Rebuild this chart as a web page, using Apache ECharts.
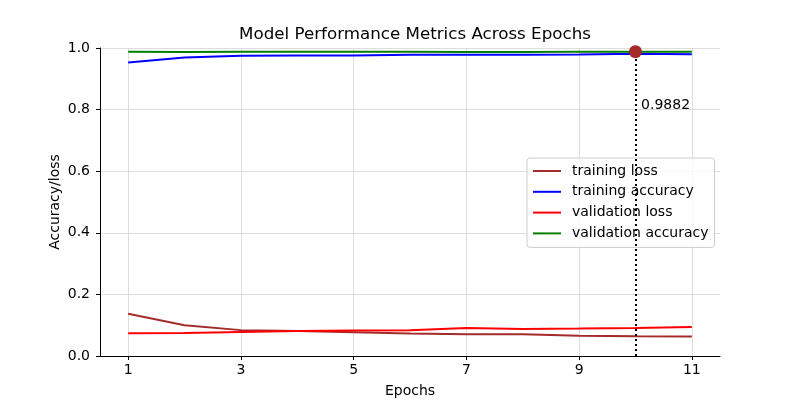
<!DOCTYPE html>
<html>
<head>
<meta charset="utf-8">
<script src="https://cdn.jsdelivr.net/npm/echarts@6/dist/echarts.min.js"></script>
<style>
  html, body { margin: 0; padding: 0; background: #fff; }
  #chart { width: 800px; height: 400px; }
</style>
</head>
<body>
<div id="chart"></div>
<script>
// values
const epochs = [1, 2, 3, 4, 5, 6, 7, 8, 9, 10, 11]
const trainLoss = [0.137, 0.100, 0.084, 0.081, 0.077, 0.073, 0.071, 0.071, 0.066, 0.064, 0.063]
const trainAcc = [0.953, 0.969, 0.975, 0.976, 0.976, 0.978, 0.978, 0.978, 0.979, 0.981, 0.980]
const valLoss = [0.074, 0.075, 0.078, 0.081, 0.083, 0.084, 0.091, 0.088, 0.089, 0.091, 0.094]
const valAcc = [0.988, 0.987, 0.988, 0.988, 0.988, 0.988, 0.987, 0.987, 0.988, 0.9882, 0.988]
const xTicks = [1, 3, 5, 7, 9, 11]
const bestEpoch = 10
const bestValue = 0.9882

const font = 'DejaVu Sans'
const pairs = (ys) => epochs.map((e, i) => [e, ys[i]])

const chart = echarts.init(document.getElementById('chart'))

function lineSeries(name, ys, color) {
  return {
    name: name,
    type: 'line',
    data: pairs(ys),
    symbol: 'none',
    lineStyle: { color: color, width: 2 },
    itemStyle: { color: color },
    animation: false
  }
}

chart.setOption({
  animation: false,
  title: {
    text: 'Model Performance Metrics Across Epochs',
    left: 410,
    textAlign: 'center',
    top: 21,
    textStyle: { fontFamily: font, fontSize: 16.7, fontWeight: 'normal', color: '#000' }
  },
  grid: { left: 100, right: 80, top: 48, bottom: 44, outerBoundsMode: 'none', containLabel: false },
  legend: {
    orient: 'vertical',
    left: 527,
    top: 158,
    padding: [6, 6, 7, 6],
    itemGap: 6.8,
    itemWidth: 28,
    itemHeight: 2,
    icon: 'rect',
    backgroundColor: 'rgba(255,255,255,0.8)',
    borderColor: '#cccccc',
    borderWidth: 1,
    borderRadius: 3,
    textStyle: { fontFamily: font, fontSize: 14, lineHeight: 14, color: '#000', padding: [0, 0, 0, 6] },
    data: ['training loss', 'training accuracy', 'validation loss', 'validation accuracy']
  },
  xAxis: {
    type: 'value',
    min: 0.5,
    max: 11.5,
    name: 'Epochs',
    nameLocation: 'middle',
    nameGap: 28,
    nameMoveOverlap: false,
    nameTextStyle: { fontFamily: font, fontSize: 14, color: '#000' },
    axisLine: { show: true, onZero: false, lineStyle: { color: '#000', width: 1 } },
    axisTick: { show: true, customValues: xTicks, length: 4, lineStyle: { color: '#000' } },
    axisLabel: { customValues: xTicks, fontFamily: font, fontSize: 14, color: '#000', margin: 7 },
    splitLine: { show: true, customValues: xTicks, lineStyle: { color: '#d6d6d6', width: 0.8 } }
  },
  yAxis: {
    type: 'value',
    min: 0,
    max: 1,
    interval: 0.2,
    name: 'Accuracy/loss',
    nameLocation: 'middle',
    nameGap: 38,
    nameMoveOverlap: false,
    nameTextStyle: { fontFamily: font, fontSize: 14, color: '#000' },
    axisLine: { show: true, lineStyle: { color: '#000', width: 1 } },
    axisTick: { show: true, length: 4, lineStyle: { color: '#000' } },
    axisLabel: {
      fontFamily: font, fontSize: 14, color: '#000', margin: 10,
      formatter: (v) => v.toFixed(1)
    },
    splitLine: { show: true, lineStyle: { color: '#d6d6d6', width: 0.8 } }
  },
  series: [
    lineSeries('training loss', trainLoss, '#a52a2a'),
    lineSeries('training accuracy', trainAcc, '#0000ff'),
    lineSeries('validation loss', valLoss, '#ff0000'),
    lineSeries('validation accuracy', valAcc, '#008000'),
    {
      name: 'guide',
      type: 'line',
      data: [],
      z: 3,
      markLine: {
        silent: true,
        symbol: 'none',
        label: { show: false },
        lineStyle: { color: '#000', type: [2, 3], width: 2 },
        data: [[{ coord: [bestEpoch, 0] }, { coord: [bestEpoch, 1] }]]
      },
      markPoint: {
        silent: true,
        symbol: 'circle',
        symbolSize: 0,
        data: [{ coord: [bestEpoch + 0.1, 0.815], value: bestValue }],
        label: {
          show: true,
          position: 'right',
          distance: 0,
          formatter: (p) => p.value.toFixed(4),
          fontFamily: font, fontSize: 14, color: '#000'
        }
      }
    },
    {
      name: 'best',
      type: 'scatter',
      data: [[bestEpoch, bestValue]],
      symbolSize: 13,
      itemStyle: { color: '#a52a2a', opacity: 1 },
      z: 10
    }
  ]
})
</script>
</body>
</html>
